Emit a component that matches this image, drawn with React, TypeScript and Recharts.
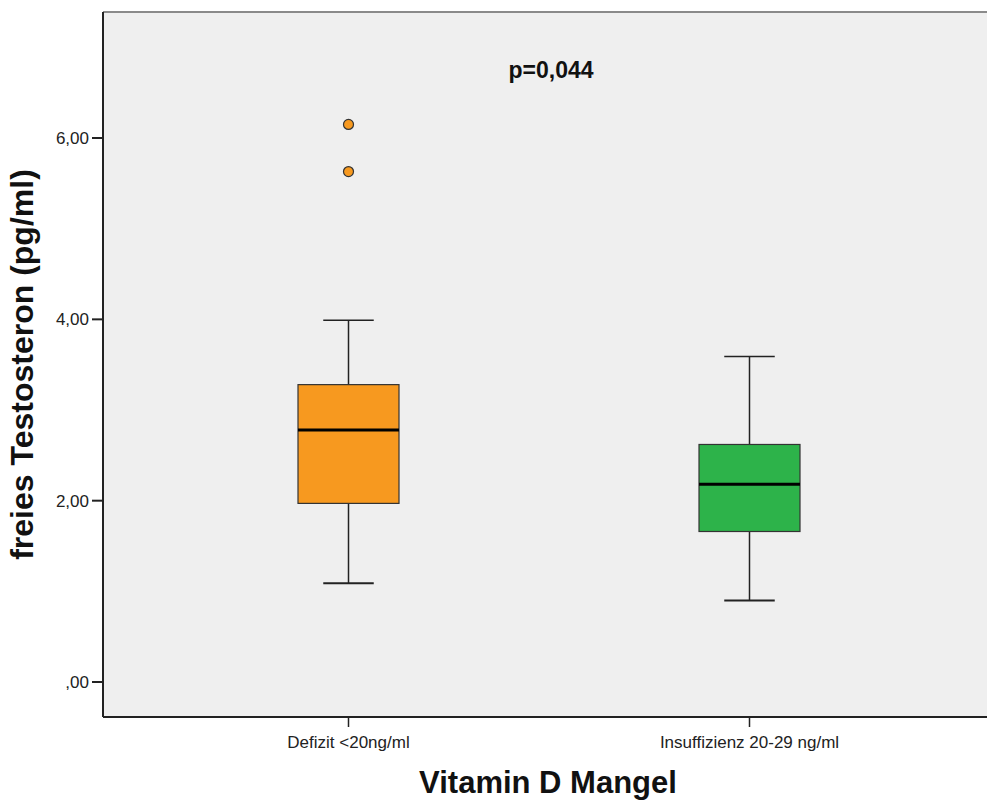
import React from 'react';
import {
    ComposedChart,
    Bar,
    XAxis,
    YAxis,
    CartesianGrid,
    ReferenceLine,
    Label
} from 'recharts';

const groups = ['Defizit <20ng/ml', 'Insuffizienz 20-29 ng/ml'];
const whiskerLow = [1.09, 0.9];
const q1 = [1.97, 1.66];
const median = [2.78, 2.18];
const q3 = [3.28, 2.62];
const whiskerHigh = [3.99, 3.59];
const outliers = [[6.15, 5.63], []];
const boxColors = ['#F7991F', '#2DB34A'];
const yTicks = [0, 2, 4, 6];
const yDomain = [-0.386, 7.39];
const pValueText = 'p=0,044';

const FONT = '"Liberation Sans", Arial, sans-serif';

const data = groups.map((group, i) => ({
    group,
    box: [q1[i], q3[i]],
    low: whiskerLow[i],
    q1: q1[i],
    median: median[i],
    q3: q3[i],
    high: whiskerHigh[i],
    outliers: outliers[i],
    color: boxColors[i]
}));

// draws whiskers, box, median and outliers from the bar's own pixel extent
function BoxShape(props: any) {
    const { x, y, width, height, payload } = props;
    if (!payload) return null;
    const top = Math.min(y, y + height);
    const bottom = Math.max(y, y + height);
    const k = (bottom - top) / (payload.q3 - payload.q1);
    const py = (v: number) => bottom - (v - payload.q1) * k;
    const cx = x + width / 2;
    const cap = width / 4;
    const dark = '#222';
    return (
        <g>
            <line x1={cx} x2={cx} y1={py(payload.high)} y2={top} stroke={dark} strokeWidth={1.5} />
            <line x1={cx} x2={cx} y1={bottom} y2={py(payload.low)} stroke={dark} strokeWidth={1.5} />
            <line x1={cx - cap} x2={cx + cap} y1={py(payload.high)} y2={py(payload.high)} stroke={dark} strokeWidth={1.5} />
            <line x1={cx - cap} x2={cx + cap} y1={py(payload.low)} y2={py(payload.low)} stroke={dark} strokeWidth={2} />
            <rect x={x} y={top} width={width} height={bottom - top} fill={payload.color} stroke="#333" strokeWidth={1.2} />
            <line x1={x} x2={x + width} y1={py(payload.median)} y2={py(payload.median)} stroke="#000" strokeWidth={3} />
            {payload.outliers.map((v: number, i: number) => (
                <circle key={i} cx={cx} cy={py(v)} r={5} fill={payload.color} stroke="#333" strokeWidth={1.2} />
            ))}
        </g>
    );
}

const formatTick = (v: number) => (v === 0 ? ',00' : v.toFixed(2).replace('.', ','));

export default function App() {
    return (
        <div style={{ position: 'absolute', left: 0, top: 0, width: 987, height: 802, background: '#fff' }}>
            <ComposedChart
                width={987}
                height={802}
                data={data}
                margin={{ top: 12, right: 0, bottom: 0, left: 0 }}
            >
                <CartesianGrid fill="#EFEFEF" horizontal={false} vertical={false} />
                <XAxis
                    dataKey="group"
                    type="category"
                    height={85}
                    padding={{ left: 45, right: 37 }}
                    tickSize={10}
                    tickMargin={9}
                    tickLine={{ stroke: '#222', strokeWidth: 1.5 }}
                    axisLine={{ stroke: '#222', strokeWidth: 2 }}
                    tick={{ fill: '#222', fontSize: 17, fontFamily: FONT }}
                >
                    <Label
                        content={({ viewBox }: any) => (
                            <text
                                x={viewBox.x + viewBox.width / 2 + 3}
                                y={viewBox.y + 76}
                                textAnchor="middle"
                                fontFamily={FONT}
                                fontWeight="bold"
                                fontSize={31}
                                fill="#111"
                            >
                                Vitamin D Mangel
                            </text>
                        )}
                    />
                </XAxis>
                <YAxis
                    type="number"
                    width={103}
                    domain={yDomain}
                    ticks={yTicks}
                    tickFormatter={formatTick}
                    tickSize={11}
                    tickMargin={3}
                    tickLine={{ stroke: '#222', strokeWidth: 2 }}
                    axisLine={{ stroke: '#222', strokeWidth: 2 }}
                    tick={{ fill: '#222', fontSize: 17, fontFamily: FONT }}
                >
                    <Label
                        content={({ viewBox }: any) => {
                            const lx = viewBox.x + 33;
                            const ly = viewBox.y + viewBox.height / 2;
                            return (
                                <text
                                    x={lx}
                                    y={ly}
                                    transform={`rotate(-90, ${lx}, ${ly})`}
                                    textAnchor="middle"
                                    fontFamily={FONT}
                                    fontWeight="bold"
                                    fontSize={32}
                                    fill="#111"
                                >
                                    freies Testosteron (pg/ml)
                                </text>
                            );
                        }}
                    />
                </YAxis>
                <ReferenceLine y={yDomain[1]} stroke="#8a8a8a" strokeWidth={2}>
                    <Label
                        content={({ viewBox }: any) => (
                            <text
                                x={viewBox.x + viewBox.width / 2 + 6}
                                y={viewBox.y + 66}
                                textAnchor="middle"
                                fontFamily={FONT}
                                fontWeight="bold"
                                fontSize={23}
                                fill="#111"
                            >
                                {pValueText}
                            </text>
                        )}
                    />
                </ReferenceLine>
                <Bar dataKey="box" barSize={101} shape={BoxShape} isAnimationActive={false} />
            </ComposedChart>
        </div>
    );
}
